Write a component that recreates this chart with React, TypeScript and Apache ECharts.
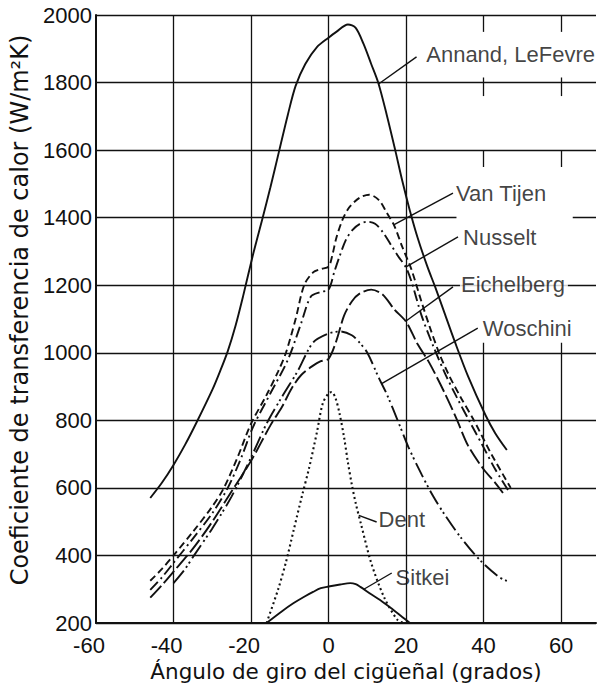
import React, { useEffect, useRef } from "react";
import * as echarts from "echarts";

// ---- axes ----
const xTicks = [-60, -40, -20, 0, 20, 40, 60];
const yTicks = [200, 400, 600, 800, 1000, 1200, 1400, 1600, 1800, 2000];

// ---- curves (crank angle in degrees, heat transfer coefficient W/m2K) ----
const annand: [number, number][] = [
  [-46, 570], [-43, 615], [-40, 668], [-37, 728], [-34, 795], [-30, 890], [-28, 945], [-26, 1005],
  [-24, 1080], [-22, 1170], [-19.5, 1290], [-17, 1400], [-15, 1490], [-12.7, 1600], [-10.5, 1705],
  [-8.5, 1790], [-6, 1855], [-3, 1905], [0, 1933], [2, 1950], [5, 1972], [7, 1962], [9, 1915],
  [11, 1855], [12.8, 1800], [15, 1705], [17.2, 1600], [19, 1510], [21, 1420], [23, 1340],
  [25.5, 1255], [27.5, 1195], [30, 1115], [32.5, 1035], [36, 930], [40.5, 815], [43, 762], [46, 712],
];
const vanTijen: [number, number][] = [
  [-46, 325], [-43, 360], [-40, 400], [-35, 470], [-30, 545], [-27, 600], [-23.5, 690], [-20, 790],
  [-16, 875], [-13, 945], [-11, 1000], [-8.5, 1100], [-6.3, 1200], [-4, 1238], [-2, 1248], [0, 1255],
  [1, 1290], [2, 1340], [3.6, 1394], [5, 1425], [6.7, 1447], [8.5, 1462], [10.5, 1468], [13, 1452],
  [15, 1415], [17, 1375], [19, 1314], [21.4, 1246], [24, 1150], [26, 1080], [28.5, 1000], [31, 935],
  [34, 870], [37.5, 800], [42, 700], [47, 600],
];
const nusselt: [number, number][] = [
  [-46, 298], [-43, 335], [-40, 378], [-35, 450], [-30, 525], [-26, 600], [-22.5, 690], [-19.5, 780],
  [-15, 880], [-10.5, 979], [-7, 1090], [-4.6, 1166], [-2, 1180], [0, 1187], [1.5, 1240], [2.8, 1284],
  [4.5, 1335], [6.2, 1364], [8, 1381], [10, 1388], [12, 1382], [14, 1357], [16.4, 1314], [18, 1285],
  [20, 1252], [21.5, 1207], [24, 1110], [27, 1020], [30, 940], [33, 870], [36.7, 790], [40, 720],
  [43, 655], [46.5, 590],
];
const eichelberg: [number, number][] = [
  [-46, 275], [-43, 312], [-40, 352], [-35, 420], [-30, 500], [-25, 590], [-20, 680], [-15, 785],
  [-12, 840], [-9.5, 895], [-7, 935], [-4, 962], [-2, 975], [0, 982], [2, 1035], [4, 1110], [6, 1152],
  [8, 1175], [11, 1187], [14, 1172], [17, 1128], [20, 1092], [23, 1025], [26, 970], [30, 880],
  [33, 805], [36, 725], [40, 655], [43, 615], [45, 585],
];
const woschini: [number, number][] = [
  [-40, 318], [-37, 360], [-35, 395], [-30, 480], [-25, 575], [-20, 690], [-16, 790], [-12, 870],
  [-8, 945], [-4, 1030], [0, 1057], [3, 1063], [6, 1052], [8, 1030], [10, 1000], [13, 925], [15, 878],
  [18, 795], [20.6, 721], [24, 640], [27, 575], [30, 520], [34, 455], [39, 387], [44, 336], [46, 325],
];
const dent: [number, number][] = [
  [-16, 200], [-13, 300], [-11, 380], [-9, 475], [-7, 570], [-5, 660], [-3, 765], [-1.5, 850],
  [0, 880], [0.8, 884], [1.8, 865], [2.8, 822], [4, 750], [5, 675], [6, 610], [7, 555], [8.5, 487],
  [11, 378], [14.3, 277], [17.8, 209], [19.5, 200],
];
const sitkei: [number, number][] = [
  [-16, 200], [-12, 235], [-9, 259], [-6.4, 277], [-4, 292], [-2, 303], [0, 308], [3, 314], [5.6, 318],
  [7, 315], [8.2, 307], [11, 285], [13.3, 268], [16, 245], [19, 218], [21, 200],
];

const curves = [
  { name: "Annand, LeFevre", data: annand, dash: "solid" as any, width: 1.9 },
  { name: "Van Tijen", data: vanTijen, dash: [7, 4], width: 1.9 },
  { name: "Nusselt", data: nusselt, dash: [11, 4, 2, 4], width: 1.9 },
  { name: "Eichelberg", data: eichelberg, dash: [16, 4], width: 1.9 },
  { name: "Woschini", data: woschini, dash: [16, 4, 2, 3, 2, 4], width: 1.9 },
  { name: "Dent", data: dent, dash: [2, 3], width: 2.1 },
  { name: "Sitkei", data: sitkei, dash: "solid" as any, width: 1.9 },
];

// ---- annotation labels: text anchor, leader start, and the curve point it points to ----
const annotations = [
  { text: "Annand, LeFevre", at: [25.2, 1882], from: [22.7, 1876], curve: annand, toX: 12.9 },
  { text: "Van Tijen", at: [32.9, 1473], from: [32.1, 1473], curve: vanTijen, toX: 16.8 },
  { text: "Nusselt", at: [34.7, 1340], from: [33.4, 1343], curve: nusselt, toX: 19.9 },
  { text: "Eichelberg", at: [33.9, 1201], from: [32.1, 1195], curve: eichelberg, toX: 19.9, bg: true },
  { text: "Woschini", at: [39.8, 1073], from: [38.5, 1073], curve: woschini, toX: 13.7 },
  { text: "Dent", at: [12.9, 505], from: [12.4, 499], curve: dent, toX: 7.8 },
  { text: "Sitkei", at: [17.3, 336], from: [16.3, 348], curve: sitkei, toX: 9.1 },
];

// grid lines drawn by hand (the scan has broken lines in the upper right)
const fullVerticals = [-40, -20, 0, 20];
const partialVerticals = [40, 60];
const partialTop = 1030;
const stubRanges = [[1950, 2000], [1760, 1815], [1550, 1600]];
const gap1400 = [33, 63];

function interp(curve: [number, number][], x: number): number {
  for (let i = 0; i < curve.length - 1; i++) {
    const [x0, y0] = curve[i];
    const [x1, y1] = curve[i + 1];
    if (x >= x0 && x <= x1) return y0 + ((y1 - y0) * (x - x0)) / (x1 - x0);
  }
  return curve[curve.length - 1][1];
}

const INK = "#111111";

export default function App() {
  const ref = useRef<HTMLDivElement>(null);
  useEffect(() => {
    if (!ref.current) return;
    const chart = echarts.init(ref.current, undefined, { renderer: "svg" });

    const gridLines: any[] = [];
    fullVerticals.forEach((v) => gridLines.push([{ coord: [v, yTicks[0]] }, { coord: [v, yTicks[yTicks.length - 1]] }]));
    partialVerticals.forEach((v) => {
      gridLines.push([{ coord: [v, yTicks[0]] }, { coord: [v, partialTop] }]);
      stubRanges.forEach((r) => gridLines.push([{ coord: [v, r[0]] }, { coord: [v, r[1]] }]));
    });

    const series: any[] = [
      {
        type: "line",
        data: [],
        silent: true,
        z: 1,
        markLine: {
          silent: true,
          symbol: ["none", "none"],
          label: { show: false },
          lineStyle: { color: INK, width: 1.3, type: "solid" },
          data: gridLines,
        },
      },
      {
        type: "line",
        data: [],
        silent: true,
        z: 1,
        markLine: {
          silent: true,
          symbol: ["none", "none"],
          label: { show: false },
          lineStyle: { color: "#ffffff", width: 4, type: "solid" },
          data: [[{ coord: [gap1400[0], 1400] }, { coord: [gap1400[1], 1400] }]],
        },
      },
      ...curves.map((c) => ({
        type: "line",
        name: c.name,
        data: c.data,
        showSymbol: false,
        symbol: "none",
        smooth: 0.3,
        z: 3,
        lineStyle: { color: INK, width: c.width, type: c.dash, cap: "butt" },
      })),
      {
        type: "line",
        data: [],
        silent: true,
        z: 4,
        markLine: {
          silent: true,
          symbol: ["none", "none"],
          label: { show: false },
          lineStyle: { color: INK, width: 1.4, type: "solid" },
          data: annotations.map((a) => [
            { coord: a.from },
            { coord: [a.toX, interp(a.curve, a.toX)] },
          ]),
        },
      },
      {
        type: "scatter",
        symbolSize: 0,
        silent: true,
        z: 5,
        data: annotations.map((a) => ({
          value: a.at,
          name: a.text,
          label: {
            show: true,
            position: "right",
            distance: 0,
            formatter: "{b}",
            fontFamily: "Liberation Sans",
            fontSize: 22,
            color: INK,
            backgroundColor: a.bg ? "#ffffff" : "transparent",
            padding: a.bg ? [1, 3, 1, 1] : 0,
          },
        })),
      },
    ];

    chart.setOption({
      animation: false,
      backgroundColor: "#ffffff",
      grid: { left: 95, right: 0, top: 15, bottom: 68, containLabel: false },
      xAxis: {
        type: "value",
        min: -60,
        max: 69,
        interval: 20,
        name: "Ángulo de giro del cigüeñal (grados)",
        nameLocation: "middle",
        nameGap: 32,
        nameTextStyle: { fontFamily: "DejaVu Sans", fontSize: 21.5, color: INK },
        axisLine: { show: true, onZero: false, lineStyle: { color: INK, width: 2 } },
        axisTick: { show: false },
        splitLine: { show: false },
        axisLabel: {
          margin: 11,
          color: INK,
          fontFamily: "Liberation Sans",
          fontSize: 22,
          formatter: (v: number) => (xTicks.includes(v) ? (v < 0 ? `{n|${v}}` : `${v}`) : ""),
          rich: { n: { fontFamily: "Liberation Sans", fontSize: 22, color: INK, padding: [0, 14, 0, 0] } },
        },
      },
      yAxis: {
        type: "value",
        min: 200,
        max: 2000,
        interval: 200,
        name: "Coeficiente de transferencia de calor (W/m²K)",
        nameLocation: "middle",
        nameGap: 64,
        nameRotate: 90,
        nameTextStyle: { fontFamily: "DejaVu Sans", fontSize: 24, color: INK, padding: [0, 0, 0, 18] },
        axisLine: { show: true, onZero: false, lineStyle: { color: INK, width: 2 } },
        axisTick: { show: false },
        splitLine: { show: true, lineStyle: { color: INK, width: 1.3 } },
        axisLabel: {
          margin: 4,
          color: INK,
          fontFamily: "Liberation Sans",
          fontSize: 22,
          formatter: (v: number) => (yTicks.includes(v) ? `${v}` : ""),
        },
      },
      series,
    });

    return () => chart.dispose();
  }, []);

  return (
    <div
      ref={ref}
      style={{ position: "absolute", left: 0, top: 0, width: 599, height: 691, background: "#fff" }}
    />
  );
}
